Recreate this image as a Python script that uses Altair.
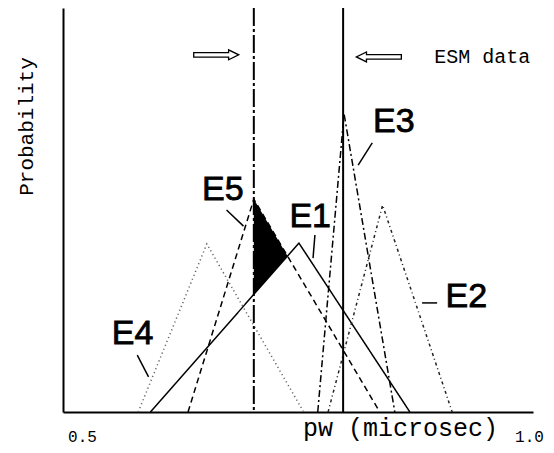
import altair as alt
import pandas as pd

# ---- data ----
names = ["E1", "E2", "E3", "E4", "E5"]
left_x = [0.593, 0.782, 0.771, 0.580, 0.633]
peak_x = [0.751, 0.840, 0.799, 0.653, 0.703]
right_x = [0.869, 0.914, 0.853, 0.756, 0.837]
peak_p = [0.418, 0.512, 0.738, 0.416, 0.527]

esm_x = [0.703, 0.798]
esm_kind = ["dashdot", "solid"]

label_x = [0.763, 0.929, 0.852, 0.574, 0.670]
label_y = [0.483, 0.285, 0.718, 0.193, 0.550]

ptr_x1 = [0.768, 0.882, 0.829, 0.579, 0.674]
ptr_y1 = [0.438, 0.270, 0.666, 0.141, 0.500]
ptr_x2 = [0.766, 0.898, 0.814, 0.591, 0.692]
ptr_y2 = [0.381, 0.270, 0.611, 0.087, 0.460]

arrow_x = [0.663, 0.836]
arrow_y = [0.884, 0.879]
arrow_angle = [0, 180]

note_text = ["ESM data"]
note_x = [0.895]
note_y = [0.879]

tick_values = [0.5, 1.0]

# ---- tables ----
rows = []
for n, l, pk, r, h in zip(names, left_x, peak_x, right_x, peak_p):
    rows += [
        {"name": n, "x": l, "p": 0.0, "o": 0},
        {"name": n, "x": pk, "p": h, "o": 1},
        {"name": n, "x": r, "p": 0.0, "o": 2},
    ]
tri = pd.DataFrame(rows)

# shaded overlap between E5 (falling side) and E1 (rising side), right of the ESM lower limit
i1, i5 = names.index("E1"), names.index("E5")
a = peak_p[i5] / (right_x[i5] - peak_x[i5])
b = peak_p[i1] / (peak_x[i1] - left_x[i1])
x_int = (a * right_x[i5] + b * left_x[i1]) / (a + b)
xs = [esm_x[0], x_int]
shade = pd.DataFrame({
    "x": xs,
    "p": [a * (right_x[i5] - v) for v in xs],
    "bot": [b * (v - left_x[i1]) for v in xs],
})

esm = pd.DataFrame({"x": esm_x, "kind": esm_kind})
labels = pd.DataFrame({"name": names, "x": label_x, "p": label_y})
ptrs = pd.DataFrame({"x": ptr_x1, "p": ptr_y1, "x2": ptr_x2, "p2": ptr_y2})
arrows = pd.DataFrame({"x": arrow_x, "p": arrow_y, "a": arrow_angle})
notes = pd.DataFrame({"t": note_text, "x": note_x, "p": note_y})

xscale = alt.Scale(domain=[0.5, 1.0])
yscale = alt.Scale(domain=[0, 1])
MONO = "Liberation Mono"

dash_range = [[1, 0], [3, 3, 1, 3], [7, 3, 2, 3], [1.2, 3], [6, 4]]
color_range = ["black", "#222222", "black", "#666666", "black"]

X_AXIS = alt.Axis(
    values=tick_values, format=".1f", title="pw (microsec)",
    domain=True, domainColor="black", domainWidth=2,
    ticks=False, tickSize=0, grid=False, labelFlush=False,
    labelPadding=24, labelBaseline="middle", labelAlign="center",
    labelFont=MONO, labelFontSize=16, labelColor="black",
    labelOffset={"condition": {"test": "datum.value < 0.75", "value": 19}, "value": -4},
    titleFont=MONO, titleFontSize=25, titleFontWeight="normal", titleColor="black",
    titleX=337, titleY=15, titleBaseline="middle", titleAlign="center", titleAnchor="start",
)
Y_AXIS = alt.Axis(
    values=[], title="Probability", domain=True, domainColor="black", domainWidth=2,
    ticks=False, labels=False, grid=False,
    titleFont=MONO, titleFontSize=21, titleFontWeight="normal", titleColor="black",
    titleX=-37, titleY=118, titleAngle=270, titleAlign="center", titleBaseline="middle",
)


def X():
    return alt.X("x:Q", scale=xscale, axis=X_AXIS)


def Y():
    return alt.Y("p:Q", scale=yscale, axis=Y_AXIS)


lines = alt.Chart(tri).mark_line(strokeWidth=1.5).encode(
    x=X(), y=Y(),
    detail="name:N",
    order="o:Q",
    strokeDash=alt.StrokeDash("name:N", scale=alt.Scale(domain=names, range=dash_range), legend=None),
    color=alt.Color("name:N", scale=alt.Scale(domain=names, range=color_range), legend=None),
)

area = alt.Chart(shade).mark_area(color="black", opacity=1).encode(
    x=X(), y=Y(), y2="bot:Q",
)

vline_lo = alt.Chart(esm).transform_filter(alt.datum.kind == "dashdot").mark_rule(
    color="black", strokeWidth=2, strokeDash=[18, 3, 3, 3]
).encode(x=X())

vline_hi = alt.Chart(esm).transform_filter(alt.datum.kind == "solid").mark_rule(
    color="black", strokeWidth=2
).encode(x=X())

pointers = alt.Chart(ptrs).mark_rule(color="black", strokeWidth=1.5).encode(
    x=X(), y=Y(), x2="x2:Q", y2="p2:Q",
)

text_labels = alt.Chart(labels).mark_text(
    font="Liberation Sans", fontSize=34, color="black", stroke="black", strokeWidth=0.8,
    align="center", baseline="middle",
).encode(x=X(), y=Y(), text="name:N")

arrow_path = "M-1,-0.1 L0.55,-0.1 L0.55,-0.22 L1,0 L0.55,0.22 L0.55,0.1 L-1,0.1 Z"
arrow_marks = alt.Chart(arrows).mark_point(
    shape=arrow_path, filled=False, stroke="black", strokeWidth=1.3, size=2025, opacity=1,
).encode(
    x=X(), y=Y(),
    angle=alt.Angle("a:Q", scale=None),
)

note = alt.Chart(notes).mark_text(
    font=MONO, fontSize=20, color="black", align="left", baseline="middle",
).encode(x=X(), y=Y(), text="t:N")

chart = alt.layer(lines, area, vline_lo, vline_hi, pointers, text_labels, arrow_marks, note).properties(
    width=470, height=404,
    autosize="none",
    padding={"left": 55, "top": 0, "right": 13, "bottom": 33},
    background="white",
).configure_view(stroke=None)

chart.save("out.html", embed_options={"renderer": "svg", "actions": False})
